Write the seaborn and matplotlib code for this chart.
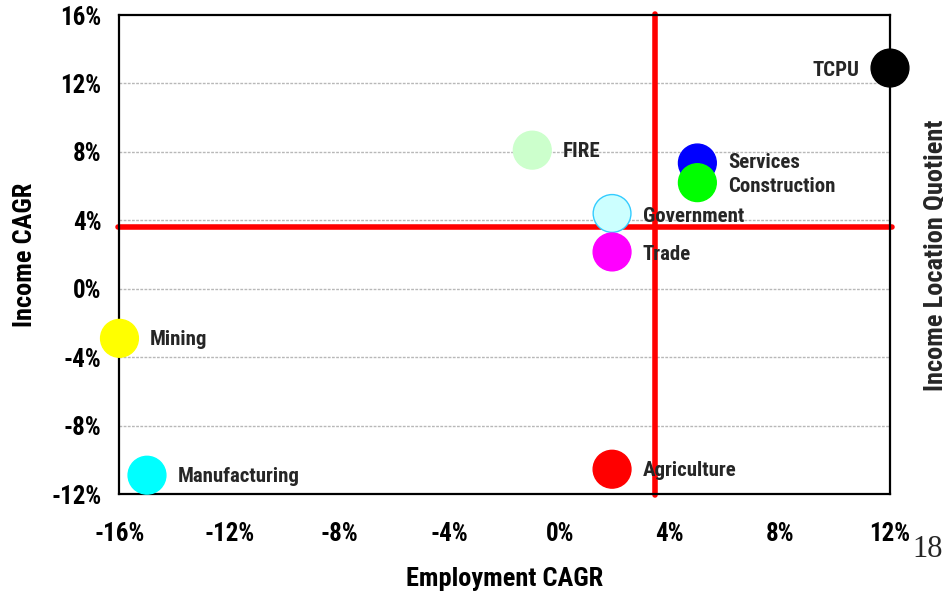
import matplotlib
matplotlib.use("Agg")
import matplotlib.pyplot as plt
import matplotlib.ticker as mticker
from matplotlib import font_manager
import pandas as pd
import seaborn as sns

# industry growth data (CAGR, %)
sectors = ["TCPU", "FIRE", "Services", "Construction", "Government",
           "Trade", "Mining", "Manufacturing", "Agriculture"]
employment_cagr = [12.0, -1.0, 5.0, 5.0, 1.9, 1.9, -16.0, -15.0, 1.9]
income_cagr = [12.9, 8.1, 7.35, 6.2, 4.4, 2.15, -2.9, -10.9, -10.55]
colors = ["#000000", "#ccffcc", "#0000ff", "#00ff00", "#ccffff",
          "#ff00ff", "#ffff00", "#00ffff", "#ff0000"]
edge_colors = ["#000000", "#ccffcc", "#0000ff", "#00ff00", "#33ccff",
               "#ff00ff", "#ffff00", "#00ffff", "#ff0000"]
label_side = ["left", "right", "right", "right", "right",
              "right", "right", "right", "right"]
label_dy = [-2, -1, 0, -3, -2, -2, -1, -1, -1]

# state averages (red quadrant lines)
avg_employment = 3.45
avg_income = 3.6

df = pd.DataFrame({"Sector": sectors, "Employment": employment_cagr, "Income": income_cagr})

sns.set_style("white")

# pick a narrow font if one is installed
names = {f.name for f in font_manager.fontManager.ttflist}
stretches = {(f.name, f.stretch) for f in font_manager.fontManager.ttflist}
stretch = "normal"
if "Liberation Sans Narrow" in names:
    main_font = "Liberation Sans Narrow"
elif "Roboto Condensed" in names:
    main_font = "Roboto Condensed"
elif any(n == "DejaVu Sans" and s == "condensed" for n, s in stretches):
    main_font = "DejaVu Sans"
    stretch = "condensed"
else:
    main_font = "Liberation Sans"
plt.rcParams["font.family"] = [main_font, "DejaVu Sans"]
plt.rcParams["font.stretch"] = stretch
plt.rcParams["font.weight"] = "bold"

fig = plt.figure(figsize=(9.43, 5.93), dpi=100)
ax = fig.add_axes([0.1267, 0.1669, 0.8171, 0.8078])

for yv in [-8, -4, 0, 4, 8, 12]:
    ax.axhline(yv, color="#b8b8b8", lw=1, ls=(0, (2, 1)), zorder=0)

ax.axvline(avg_employment, color="red", lw=4, zorder=1, ymin=-0.003, ymax=1.003,
           clip_on=False, solid_capstyle="round")
ax.axhline(avg_income, color="red", lw=4, zorder=1, xmin=-0.002, xmax=1.002,
           clip_on=False, solid_capstyle="round")

sns.scatterplot(data=df, x="Employment", y="Income", hue="Sector", palette=colors,
                s=740, linewidth=1, legend=False, ax=ax, zorder=3, clip_on=False)
ax.collections[-1].set_edgecolors(edge_colors)

for name, xv, yv, side, dy in zip(sectors, employment_cagr, income_cagr, label_side, label_dy):
    off = -22 if side == "left" else 22
    ax.annotate(name, (xv, yv), xytext=(off, dy), textcoords="offset points",
                ha="right" if side == "left" else "left", va="center",
                fontsize=15, fontweight="bold", zorder=4)

ax.set_xlim(-16, 12)
ax.set_ylim(-12, 16)
ax.set_xticks([-16, -12, -8, -4, 0, 4, 8, 12])
ax.set_yticks([-12, -8, -4, 0, 4, 8, 12, 16])
ax.xaxis.set_major_formatter(mticker.FuncFormatter(lambda v, p: f"{v:.0f}%"))
ax.yaxis.set_major_formatter(mticker.FuncFormatter(lambda v, p: f"{v:.0f}%"))
ax.tick_params(axis="both", length=0, labelsize=18, colors="black")
ax.tick_params(axis="x", pad=20)
ax.tick_params(axis="y", pad=13)
for lbl in ax.get_xticklabels() + ax.get_yticklabels():
    lbl.set_fontweight("bold")

for sp in ax.spines.values():
    sp.set_color("black")
    sp.set_linewidth(1.6)

ax.set_xlabel("Employment CAGR", fontsize=19, fontweight="bold", labelpad=15, color="black")
ax.set_ylabel("Income CAGR", fontsize=19, fontweight="bold", labelpad=10, color="black")

fig.text(0.993, 0.57, "Income Location Quotient", rotation=90, ha="center", va="center",
         fontsize=19, fontweight="bold")
fig.text(0.967, 0.06, "18", family=["Liberation Serif", "DejaVu Serif"],
         fontsize=22, fontweight="normal", stretch="normal", ha="left", va="baseline")

fig.savefig("out.png", dpi=100)
